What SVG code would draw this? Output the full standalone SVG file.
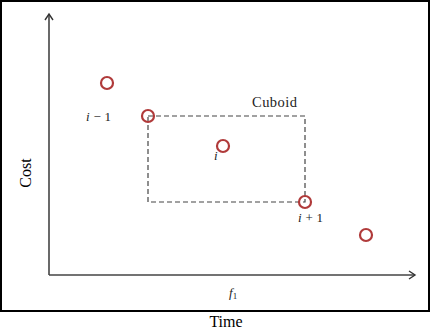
<svg xmlns="http://www.w3.org/2000/svg" width="431" height="329" viewBox="0 0 431 329">
<style>
.pt{fill:none;stroke:#b03a3a;stroke-width:2.2}
.ax{stroke:#444;stroke-width:1.6;fill:none}
.lbl{font-family:"Liberation Serif",serif;font-size:13px;fill:#222}
.it{font-style:italic}
.up{font-style:normal}
.big{font-family:"Liberation Serif",serif;font-size:16px;fill:#000}
</style>
<defs>
<marker id="arr" markerWidth="10" markerHeight="10" refX="8" refY="5" orient="auto" markerUnits="userSpaceOnUse">
<path d="M2,1 L8,5 L2,9" fill="none" stroke="#333" stroke-width="1.4"/>
</marker>
</defs>
<rect x="0" y="0" width="431" height="329" fill="#fff"/>
<rect x="1" y="1" width="428" height="310" fill="none" stroke="#000" stroke-width="2"/>
<g id="connectors">
<path class="ax" d="M49,275 L49,14" marker-end="url(#arr)"/>
<path class="ax" d="M49,275 L415,275" marker-end="url(#arr)"/>
<rect id="cuboid" x="148" y="116" width="157" height="86" fill="none" stroke="#444" stroke-width="1.2" stroke-dasharray="5,3"/>
</g>
<g id="p0"><circle class="pt" cx="107" cy="83" r="6"/></g>
<g id="p1"><circle class="pt" cx="148" cy="116" r="6"/><text class="lbl it" x="86" y="121" textLength="25">i <tspan class="up">− 1</tspan></text></g>
<g id="p2"><circle class="pt" cx="223" cy="146" r="6"/><text class="lbl it" x="214" y="160">i</text></g>
<g id="p3"><circle class="pt" cx="305" cy="202" r="6"/><text class="lbl it" x="298" y="222" textLength="25">i <tspan class="up">+ 1</tspan></text></g>
<g id="p4"><circle class="pt" cx="366" cy="235" r="6"/></g>
<text class="lbl" x="252" y="107" style="font-size:14.5px" textLength="45">Cuboid</text>
<text class="lbl it" x="229" y="297">f<tspan style="font-size:9px;font-style:normal" dy="2">1</tspan></text>
<text class="big" x="226" y="327" text-anchor="middle">Time</text>
<text class="big" transform="translate(31,173) rotate(-90)" text-anchor="middle">Cost</text>
</svg>
